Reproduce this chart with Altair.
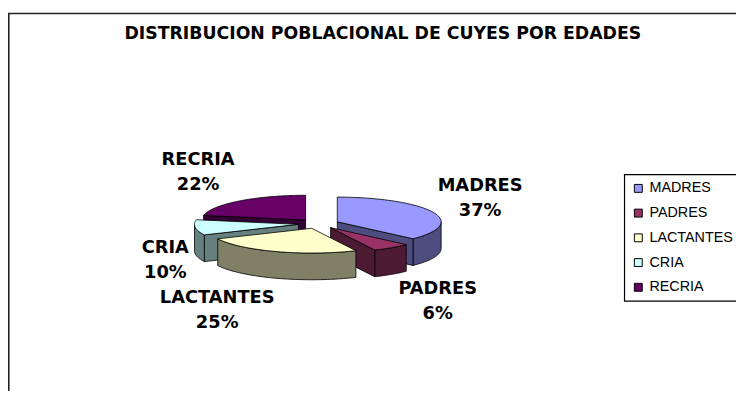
import math
import numpy as np
import pandas as pd
import altair as alt

# ---------------- data ----------------
categories = ["MADRES", "PADRES", "LACTANTES", "CRIA", "RECRIA"]
percentages = [37, 6, 25, 10, 22]
title_text = "DISTRIBUCION POBLACIONAL DE CUYES POR EDADES"

# ---------------- styles ----------------
top_colors = ["#9999FF", "#993366", "#FFFFCC", "#CCFFFF", "#660066"]
side_colors = ["#4D4D80", "#4D1A33", "#808066", "#668080", "#330033"]

# ---------------- layout (page pixels) ----------------
W, H = 736, 385          # plot area = whole chart (padding 0, autosize none)
OX, OY = 8, 8            # page margin
CX, CY = 322, 224        # pie centre
RX, RY = 105, 25         # ellipse radii of the pie top
DEPTH = 27               # thickness of the pie
EXPLODE = 20.6           # explosion distance (horizontal units)
RATIO = RY / RX

# ---------------- geometry derived from the percentages ----------------
rows = []
polys = []  # (pid, fill, kind, sortkey)
total = float(sum(percentages))
start = 0.0
label_rows = []


def rad(d):
    return math.radians(d)


for i, (cat, p) in enumerate(zip(categories, percentages)):
    a0 = start
    a1 = start + 360.0 * p / total
    start = a1
    m = (a0 + a1) / 2
    ax = CX + EXPLODE * math.sin(rad(m))
    ay = CY - EXPLODE * RATIO * math.cos(rad(m))

    def rim(t, dz=0.0):
        return (ax + RX * math.sin(rad(t)), ay - RY * math.cos(rad(t)) + dz)

    # top face
    pts = [(ax, ay)] + [rim(t) for t in np.linspace(a0, a1, 60)] + [(ax, ay)]
    pid = f"top_{i}"
    for k, (x, y) in enumerate(pts):
        rows.append({"pid": pid, "k": k, "x": x, "y": y})
    polys.append((pid, top_colors[i], "top", max(y for _, y in pts)))

    # outer curved wall (front half only)
    lo, hi = max(a0, 90.0), min(a1, 270.0)
    if hi > lo:
        ts = list(np.linspace(lo, hi, 50))
        pts = [rim(t) for t in ts] + [rim(t, DEPTH) for t in reversed(ts)]
        pts.append(pts[0])
        pid = f"wall_{i}"
        for k, (x, y) in enumerate(pts):
            rows.append({"pid": pid, "k": k, "x": x, "y": y})
        polys.append((pid, side_colors[i], "wall", max(y for _, y in pts)))

    # radial faces
    for tag, ang, visible in (("r0", a0, math.sin(rad(a0)) < -1e-9),
                              ("r1", a1, math.sin(rad(a1)) > 1e-9)):
        if visible:
            rx_, ry_ = rim(ang)
            pts = [(ax, ay), (rx_, ry_), (rx_, ry_ + DEPTH), (ax, ay + DEPTH), (ax, ay)]
            pid = f"{tag}_{i}"
            for k, (x, y) in enumerate(pts):
                rows.append({"pid": pid, "k": k, "x": x, "y": y})
            polys.append((pid, side_colors[i], "wall", max(y for _, y in pts)))

    # label position (outside the slice, at its mid angle)
    s, c = math.sin(rad(m)), math.cos(rad(m))
    anchor_x = CX + 130 * s
    width_est = 13.0 * max(len(cat), len(f"{p}%"))
    lx = anchor_x + (width_est / 2 + 5 if s > 0 else -width_est / 2)
    ly = CY + 2 - 70 * c + (20 if c < 0 else 0) + 10 * max(0.0, 1 - 3 * abs(c))
    label_rows.append({"cat": cat, "pct": f"{p}%", "x": lx, "y1": ly - 12.5, "y2": ly + 12.5})

geo = pd.DataFrame(rows)
labels = pd.DataFrame(label_rows)

xs = alt.Scale(domain=[OX, OX + W], nice=False, zero=False)
ys = alt.Scale(domain=[OY + H, OY], nice=False, zero=False)

layers = []
ordered = sorted([q for q in polys if q[2] == "wall"], key=lambda q: q[3]) + \
          sorted([q for q in polys if q[2] == "top"], key=lambda q: q[3])
for pid, fill, kind, _ in ordered:
    layers.append(
        alt.Chart(geo)
        .transform_filter(alt.datum.pid == pid)
        .mark_line(fill=fill, stroke="black", strokeWidth=0.8, strokeJoin="round")
        .encode(
            x=alt.X("x:Q", scale=xs, axis=None),
            y=alt.Y("y:Q", scale=ys, axis=None),
            order=alt.Order("k:Q"),
        )
    )

label_font = "DejaVu Sans"
name_layer = alt.Chart(labels).mark_text(
    font=label_font, fontWeight="bold", fontSize=18, color="black", baseline="middle"
).encode(x=alt.X("x:Q", scale=xs, axis=None), y=alt.Y("y1:Q", scale=ys, axis=None), text="cat:N")
pct_layer = alt.Chart(labels).mark_text(
    font=label_font, fontWeight="bold", fontSize=18, color="black", baseline="middle"
).encode(x=alt.X("x:Q", scale=xs, axis=None), y=alt.Y("y2:Q", scale=ys, axis=None), text="pct:N")

title_df = pd.DataFrame({"t": [title_text]})
title_layer = alt.Chart(title_df).mark_text(
    font=label_font, fontWeight="bold", fontSize=17.5, color="black", baseline="alphabetic", align="center"
).encode(x=alt.value(387 - OX), y=alt.value(37 - OY), text="t:N")

border_df = pd.DataFrame({"b": [0]})
left_border = alt.Chart(border_df).mark_rule(color="#222222", strokeWidth=1.6).encode(
    x=alt.value(0.8), y=alt.value(3), y2=alt.value(H)
)
top_border = alt.Chart(border_df).mark_rule(color="#222222", strokeWidth=1.6).encode(
    x=alt.value(0), x2=alt.value(W), y=alt.value(3.5)
)

legend_df = pd.DataFrame({"cat": categories})
legend_layer = alt.Chart(legend_df).mark_square(size=0, opacity=1).encode(
    x=alt.value(0),
    y=alt.value(0),
    fill=alt.Fill(
        "cat:N",
        scale=alt.Scale(domain=categories, range=top_colors),
        legend=alt.Legend(
            orient="none",
            legendX=623,
            legendY=166,
            title=None,
            symbolType="square",
            symbolSize=64,
            symbolStrokeColor="black",
            symbolStrokeWidth=1,
            symbolOpacity=1,
            labelFont="Liberation Sans",
            labelFontSize=14.5,
            labelColor="black",
            labelOffset=4,
            rowPadding=10,
            padding=7,
            strokeColor="black",
            fillColor="white",
        ),
    ),
)

chart = alt.layer(
    left_border, top_border, *layers, name_layer, pct_layer, title_layer, legend_layer
).properties(
    width=W, height=H, padding=0, autosize=alt.AutoSizeParams(type="none"), background="white"
).configure_view(strokeWidth=0).configure_legend(strokeWidth=1.2)

chart.save("out.html", embed_options={"renderer": "svg", "actions": False})
